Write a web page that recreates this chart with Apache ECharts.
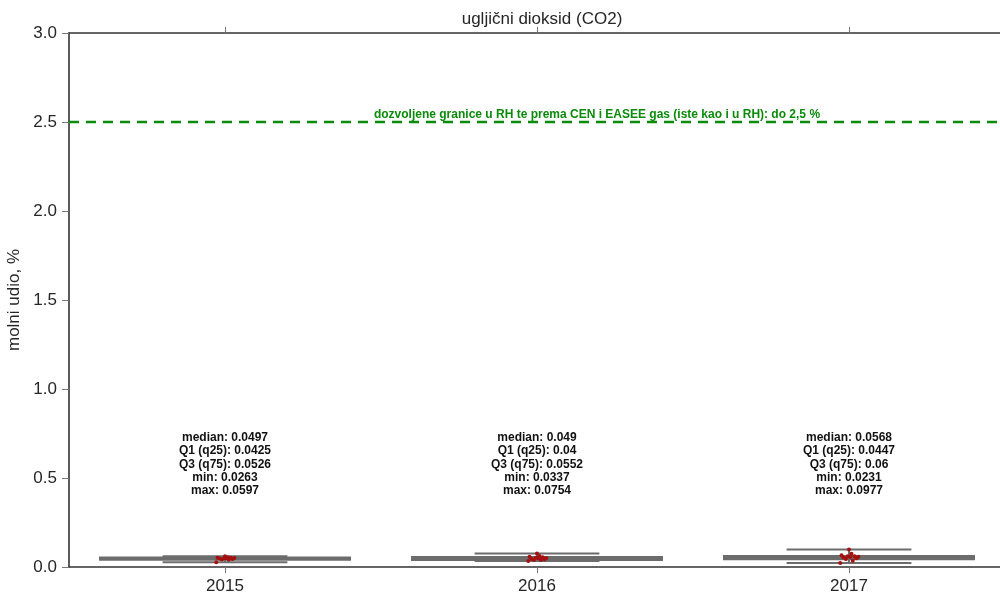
<!DOCTYPE html>
<html>
<head>
<meta charset="utf-8">
<script src="https://cdn.jsdelivr.net/npm/echarts@6/dist/echarts.min.js"></script>
<style>
  html, body { margin: 0; padding: 0; background: #fff; }
  #chart { width: 1000px; height: 594px; }
</style>
</head>
<body>
<div id="chart"></div>
<script>
// Yearly CO2 molar fraction statistics (%)
const years = ['2015', '2016', '2017'];
const medians = [0.0497, 0.049, 0.0568];
const q1s = [0.0425, 0.04, 0.0447];
const q3s = [0.0526, 0.0552, 0.06];
const mins = [0.0263, 0.0337, 0.0231];
const maxs = [0.0597, 0.0754, 0.0977];

// Individual measurements per year
const obs2015 = [0.0263, 0.0412, 0.0425, 0.0448, 0.0471, 0.0497, 0.0502, 0.0489, 0.0515, 0.0526, 0.0541, 0.0597];
const obs2016 = [0.0337, 0.0395, 0.0400, 0.0433, 0.0468, 0.0490, 0.0501, 0.0522, 0.0552, 0.0578, 0.0623, 0.0754];
const obs2017 = [0.0231, 0.0352, 0.0447, 0.0489, 0.0530, 0.0568, 0.0575, 0.0598, 0.0600, 0.0655, 0.0741, 0.0977];
const observations = [obs2015, obs2016, obs2017];

// Permitted limit
const limitValue = 2.5;
const limitText = 'dozvoljene granice u RH te prema CEN i EASEE gas (iste kao i u RH): do 2,5 %';

const yMin = 0, yMax = 3, yStep = 0.5;

// Horizontal spread of the strip points, as a fraction of the category band
const stripJitter = [-0.028, 0.012, -0.010, 0.024, -0.018, 0.004, 0.030, -0.004, 0.018, -0.024, 0.008, 0.000];

const FONT = '"Liberation Sans", Arial, sans-serif';
const GRAY = '#6c6c6c';
const GREEN = '#0b8a0b';
const STATS_Y = 0.576;

const boxData = years.map((y, i) => [i, mins[i], q1s[i], medians[i], q3s[i], maxs[i]]);
const pointData = [];
observations.forEach((arr, i) => arr.forEach((v, k) => pointData.push([i, v, stripJitter[k % stripJitter.length]])));
const statsData = years.map((y, i) => [i, STATS_Y,
  'median: ' + medians[i] + '\nQ1 (q25): ' + q1s[i] + '\nQ3 (q75): ' + q3s[i] +
  '\nmin: ' + mins[i] + '\nmax: ' + maxs[i]]);

const chart = echarts.init(document.getElementById('chart'), null, { renderer: 'canvas' });

const axisLineStyle = { color: '#333', width: 1.6 };
const tickStyle = { color: '#777', width: 1 };

chart.setOption({
  backgroundColor: '#fff',
  animation: false,
  title: {
    text: 'ugljični dioksid (CO2)',
    left: 537, top: 6, textAlign: 'center',
    textStyle: { fontFamily: FONT, fontSize: 17, fontWeight: 'normal', color: '#262626' }
  },
  grid: { left: 69, top: 33, width: 936, height: 534, outerBoundsMode: 'none', containLabel: false },
  xAxis: [{
    type: 'category', data: years, position: 'bottom',
    axisLine: { show: true, lineStyle: axisLineStyle },
    axisTick: { show: true, alignWithLabel: true, length: 6, lineStyle: tickStyle },
    axisLabel: { fontFamily: FONT, fontSize: 17, color: '#262626', margin: 11 },
    splitLine: { show: false }
  }, {
    type: 'category', data: years, position: 'top',
    axisLine: { show: true, lineStyle: axisLineStyle },
    axisTick: { show: true, alignWithLabel: true, length: 6, lineStyle: tickStyle },
    axisLabel: { show: false },
    splitLine: { show: false }
  }],
  yAxis: {
    type: 'value', min: yMin, max: yMax, interval: yStep,
    name: 'molni udio, %', nameLocation: 'middle', nameGap: 44, nameRotate: 90,
    nameTextStyle: { fontFamily: FONT, fontSize: 17, color: '#262626' },
    axisLine: { show: true, lineStyle: axisLineStyle },
    axisTick: { show: true, inside: false, length: 7, lineStyle: tickStyle },
    axisLabel: { fontFamily: FONT, fontSize: 17, color: '#262626', margin: 12,
      formatter: v => v.toFixed(1) },
    splitLine: { show: false }
  },
  series: [{
    // box plots
    type: 'custom',
    data: boxData,
    z: 2,
    renderItem: function (params, api) {
      const i = api.value(0);
      const band = api.size([1, 0])[0];
      const boxW = band * 0.8, capW = boxW * 0.5;
      const cx = api.coord([i, 0])[0];
      const yMinP = api.coord([i, api.value(1)])[1];
      const yQ1 = api.coord([i, api.value(2)])[1];
      const yMed = api.coord([i, api.value(3)])[1];
      const yQ3 = api.coord([i, api.value(4)])[1];
      const yMaxP = api.coord([i, api.value(5)])[1];
      const ls = { stroke: GRAY, lineWidth: 2 };
      return {
        type: 'group',
        children: [
          { type: 'rect', shape: { x: cx - boxW / 2, y: yQ3, width: boxW, height: yQ1 - yQ3 },
            style: { fill: GRAY, stroke: GRAY, lineWidth: 2.4 } },
          { type: 'line', shape: { x1: cx, y1: yQ3, x2: cx, y2: yMaxP }, style: ls },
          { type: 'line', shape: { x1: cx, y1: yQ1, x2: cx, y2: yMinP }, style: ls },
          { type: 'line', shape: { x1: cx - capW / 2, y1: yMaxP, x2: cx + capW / 2, y2: yMaxP }, style: ls },
          { type: 'line', shape: { x1: cx - capW / 2, y1: yMinP, x2: cx + capW / 2, y2: yMinP }, style: ls },
          { type: 'line', shape: { x1: cx - boxW / 2, y1: yMed, x2: cx + boxW / 2, y2: yMed }, style: ls }
        ]
      };
    },
    markLine: {
      silent: true,
      symbol: ['none', 'none'],
      data: [{ yAxis: limitValue }],
      lineStyle: { color: GREEN, width: 2.4, type: [10, 7] },
      label: {
        show: true, position: 'insideMiddleTop', distance: 1, offset: [60, 0],
        formatter: limitText,
        fontFamily: FONT, fontSize: 12, fontWeight: 'bold', color: GREEN
      }
    }
  }, {
    // individual measurements
    type: 'custom',
    data: pointData,
    z: 3,
    renderItem: function (params, api) {
      const band = api.size([1, 0])[0];
      const p = api.coord([api.value(0), api.value(1)]);
      return {
        type: 'circle',
        shape: { cx: p[0] + api.value(2) * band, cy: p[1], r: 2 },
        style: { fill: '#a50f0f' }
      };
    }
  }, {
    // per-year summary text
    type: 'custom',
    data: statsData,
    z: 4,
    renderItem: function (params, api) {
      const p = api.coord([api.value(0), api.value(1)]);
      return {
        type: 'text',
        x: p[0], y: p[1],
        style: {
          text: statsData[params.dataIndex][2],
          align: 'center', verticalAlign: 'middle',
          font: 'bold 12px ' + FONT, fill: '#111',
          lineHeight: 13.3
        }
      };
    }
  }]
});
</script>
</body>
</html>
